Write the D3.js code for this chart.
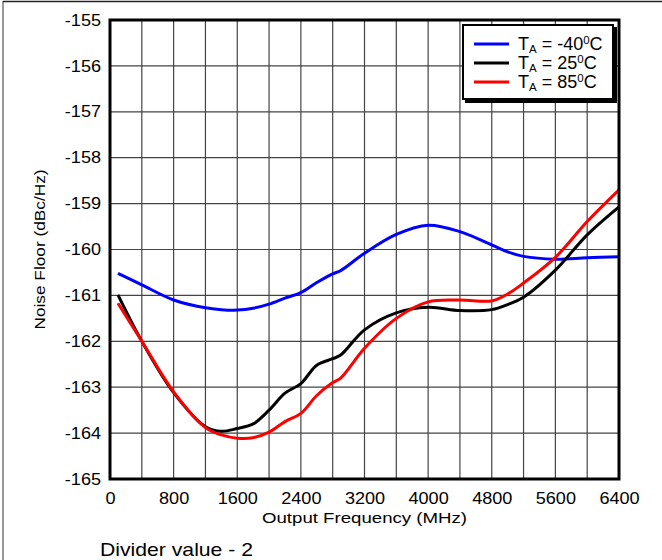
<!DOCTYPE html>
<html><head><meta charset="utf-8">
<script src="https://cdn.jsdelivr.net/npm/d3@7"></script>
<style>body{margin:0;background:#fff}svg{display:block}text{font-family:"Liberation Sans",Arial,sans-serif}</style>
</head><body>
<svg id="c" width="662" height="560"></svg>
<script>
const freq = [100,400,800,1200,1400,1600,1800,2000,2200,2400,2600,2800,2900,3200,3600,4000,4400,4800,5000,5200,5600,6000,6400];
const tM40 = [-160.52,-160.77,-161.10,-161.27,-161.31,-161.32,-161.28,-161.19,-161.06,-160.94,-160.72,-160.53,-160.46,-160.08,-159.67,-159.47,-159.61,-159.90,-160.05,-160.15,-160.21,-160.18,-160.16];
const t25 = [-160.99,-162.00,-163.12,-163.86,-163.96,-163.90,-163.80,-163.50,-163.13,-162.92,-162.52,-162.38,-162.30,-161.75,-161.38,-161.26,-161.33,-161.31,-161.20,-161.04,-160.45,-159.68,-159.07];
const t85 = [-161.17,-162.00,-163.10,-163.88,-164.04,-164.11,-164.10,-163.98,-163.75,-163.57,-163.18,-162.90,-162.80,-162.15,-161.50,-161.14,-161.10,-161.12,-160.97,-160.73,-160.17,-159.39,-158.70];
const xTicks = [0,800,1600,2400,3200,4000,4800,5600,6400];
const yTicks = [-155,-156,-157,-158,-159,-160,-161,-162,-163,-164,-165];
const seriesNames = ["-40","25","85"];
const seriesColors = ["#0000ff","#000000","#ff0000"];

const svg = d3.select("#c");
const L=110,R=619,T=20,B=479;
const SX = 1.13;
const x = d3.scaleLinear().domain([0,6400]).range([L,R]);
const y = d3.scaleLinear().domain([-165,-155]).range([B,T]);

// outer frame
svg.append("line").attr("x1",3).attr("x2",3).attr("y1",1).attr("y2",560).attr("stroke","#777").attr("stroke-width",1.5);
svg.append("line").attr("x1",3).attr("x2",662).attr("y1",1.5).attr("y2",1.5).attr("stroke","#222").attr("stroke-width",1.5);

// grid
const g = svg.append("g");
d3.range(400,6400,400).forEach(f=>{
  g.append("line").attr("x1",x(f)).attr("x2",x(f)).attr("y1",T).attr("y2",B).attr("stroke","#444").attr("stroke-width",1.2);
});
d3.range(-164,-155,1).forEach(v=>{
  g.append("line").attr("x1",L).attr("x2",R).attr("y1",y(v)).attr("y2",y(v)).attr("stroke","#444").attr("stroke-width",1.2);
});

// axes labels via d3 axes
const xa = svg.append("g").attr("transform",`translate(0,${B})`).call(d3.axisBottom(x).tickValues(xTicks).tickSize(0).tickPadding(14).tickFormat(d3.format("d")));
xa.select(".domain").remove();
xa.selectAll("text").attr("font-size",16).attr("fill","#000").attr("font-family","Liberation Sans, Arial, sans-serif")
  .attr("transform",`scale(${SX},1)`).attr("y",14);
const ya = svg.append("g").attr("transform",`translate(${L},0)`).call(d3.axisLeft(y).tickValues(yTicks).tickSize(0).tickPadding(9).tickFormat(d=>"-"+Math.abs(d)));
ya.select(".domain").remove();
ya.selectAll("text").attr("font-size",16).attr("fill","#000").attr("font-family","Liberation Sans, Arial, sans-serif")
  .attr("x",-9/SX).attr("transform",`scale(${SX},1)`);

// lines
const seriesData = [tM40,t25,t85];
const line = d3.line().x((d,i)=>x(freq[i])).y(d=>y(d)).curve(d3.curveCatmullRom.alpha(0.5));
seriesData.forEach((s,k)=>{
  svg.append("path").datum(s).attr("d",line).attr("fill","none").attr("stroke",seriesColors[k]).attr("stroke-width",3).attr("stroke-linejoin","round");
});

// plot border
svg.append("rect").attr("x",L).attr("y",T).attr("width",R-L).attr("height",B-T).attr("fill","none").attr("stroke","#000").attr("stroke-width",3);

// legend
const lg = svg.append("g");
lg.append("rect").attr("x",465).attr("y",27).attr("width",152).attr("height",76).attr("fill","#000");
lg.append("rect").attr("x",463).attr("y",25).attr("width",150).attr("height",74).attr("fill","#fff").attr("stroke","#000").attr("stroke-width",2);
seriesNames.forEach((n,k)=>{
  const yy = 44 + k*19;
  lg.append("line").attr("x1",474).attr("x2",509).attr("y1",yy).attr("y2",yy).attr("stroke",seriesColors[k]).attr("stroke-width",3);
  const t = lg.append("text").attr("x",518).attr("y",yy+6).attr("font-size",18).attr("fill","#000");
  t.append("tspan").text("T");
  t.append("tspan").attr("font-size",11.5).attr("dy",3).text("A");
  t.append("tspan").attr("dy",-3).text(" = "+n);
  t.append("tspan").attr("font-size",11.5).attr("dy",-6).text("0");
  t.append("tspan").attr("dy",6).text("C");
});

// titles
svg.append("text").attr("x",(L+R)/2).attr("y",523).attr("text-anchor","middle").attr("font-size",15.5)
  .attr("textLength",205).attr("lengthAdjust","spacingAndGlyphs").text("Output Frequency (MHz)");
svg.append("text").attr("transform",`translate(45,${(T+B)/2}) rotate(-90)`).attr("text-anchor","middle").attr("font-size",15.5)
  .attr("textLength",160).attr("lengthAdjust","spacingAndGlyphs").text("Noise Floor (dBc/Hz)");
svg.append("text").attr("x",100).attr("y",556).attr("font-size",19)
  .attr("textLength",153).attr("lengthAdjust","spacingAndGlyphs").text("Divider value - 2");
</script>
</body></html>
